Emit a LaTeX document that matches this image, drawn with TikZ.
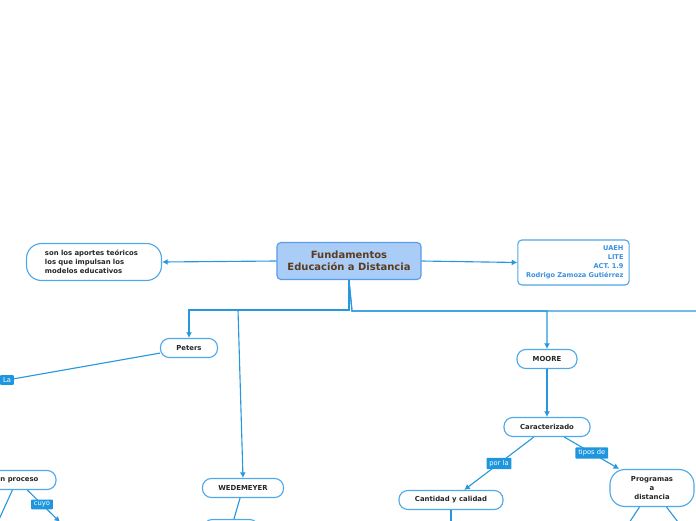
\documentclass[tikz,border=0pt]{standalone}
\usepackage{fontspec}
\setmainfont{DejaVu Sans}
\usetikzlibrary{arrows.meta}
\definecolor{mapline}{HTML}{2898DE}
\definecolor{nodeedge}{HTML}{4FA8E8}
\definecolor{rootfill}{HTML}{A9CDF7}
\definecolor{rootedge}{HTML}{5A9CEC}
\definecolor{roottext}{HTML}{5C3B1E}
\definecolor{nodetext}{HTML}{262626}
\definecolor{infotext}{HTML}{3A8FE0}
\definecolor{tagfill}{HTML}{1E96DE}

\begin{document}
\begin{tikzpicture}[x=0.025cm,y=-0.025cm,
  concept/.style={draw=nodeedge, line width=0.8pt, rounded corners=0.22cm, fill=white,
    font=\bfseries\fontsize{4.9}{6.4}\selectfont, text=nodetext, align=center,
    minimum height=0.475cm, inner sep=1pt},
  root/.style={draw=rootedge, line width=0.8pt, rounded corners=0.1cm, fill=rootfill,
    font=\bfseries\fontsize{7.1}{8.5}\selectfont, text=roottext, align=center,
    minimum width=3.6cm, minimum height=0.925cm, inner sep=1pt},
  info/.style={draw=nodeedge, line width=0.8pt, rounded corners=0.1cm, fill=white,
    font=\bfseries\fontsize{4.7}{6.4}\selectfont, text=infotext, align=right,
    text width=2.5cm, minimum height=1.125cm, inner xsep=0.14cm, inner ysep=1pt},
  tag/.style={fill=tagfill, text=white, font=\fontsize{4.8}{5.5}\selectfont,
    inner xsep=2pt, inner ysep=1.6pt, rounded corners=0.5pt},
  line/.style={draw=mapline, line width=0.8pt},
  arr/.style={line, -{Latex[length=1.4mm, width=1.5mm]}}]

  \useasboundingbox (0,0) rectangle (696,520);
  \clip (0,0) rectangle (696,520);

  % top row
  \node[root] (root) at (349,261) {Fundamentos\\Educación a Distancia};
  \node[concept, align=left, text width=2.45cm, minimum width=3.375cm,
    minimum height=0.925cm, rounded corners=0.375cm] (aportes) at (94,262)
    {son los aportes teóricos\\los que impulsan los\\modelos educativos};
  \node[info] (autor) at (573.5,262.5) {UAEH\\LITE\\ACT. 1.9\\Rodrigo Zamoza Gutiérrez};

  % second level
  \node[concept, minimum width=1.425cm] (peters) at (189,348) {Peters};
  \node[concept, minimum width=2.025cm] (wede) at (243,488) {WEDEMEYER};
  \node[concept, minimum width=1.5cm] (moore) at (547,359) {MOORE};
  \node[concept, minimum width=2.15cm] (carac) at (547,427) {Caracterizado};
  \node[concept, minimum width=2.6cm] (cant) at (451,500) {Cantidad y calidad};
  \node[concept, minimum width=2.1cm, minimum height=0.925cm,
    rounded corners=0.375cm] (prog) at (652,488) {Programas\\a\\distancia};
  \node[concept, minimum width=1.95cm] (proceso) at (17,480) {un proceso};
  \node[concept, minimum width=1.375cm] (wedebox) at (231,529) {};
  \node[tag] (la) at (7,380) {La};

  \coordinate (trunk) at (349,310);
  \coordinate (wbend) at (238,310);
  \coordinate (trunkr) at (352,311);
  \coordinate (offright) at (700,311);
  \coordinate (cantdown) at (451,530);
  \coordinate (progl) at (627,526);
  \coordinate (progr) at (681,526);
  \coordinate (procdown) at (60,522);
  \coordinate (procleft) at (-4,526);

  \draw[arr] (root.west) -- (aportes.east);
  \draw[arr] (root.east) -- (autor.west);
  \draw[arr] (root.south) -- (trunk) -| (peters.north);
  \draw[arr] (root.south) -- (trunk) -- (wbend) -- (wede.north);
  \draw[arr] (root.south) -- (trunkr) -| (moore.north);
  \draw[line] (root.south) -- (trunkr) -- (offright);

  \draw[line] (peters) -- (la);
  \draw[arr] (moore) -- (carac);
  \draw[arr] (carac) -- node[tag] {por la} (cant);
  \draw[arr] (carac) -- node[tag] {tipos de} (prog);
  \draw[line] (cant) -- (cantdown);
  \draw[line] (prog) -- (progl);
  \draw[line] (prog) -- (progr);
  \draw[line] (wede) -- (wedebox);
  \draw[arr] (proceso) -- node[tag, pos=0.45] {cuyo} (procdown);
  \draw[line] (proceso) -- (procleft);
\end{tikzpicture}
\end{document}
